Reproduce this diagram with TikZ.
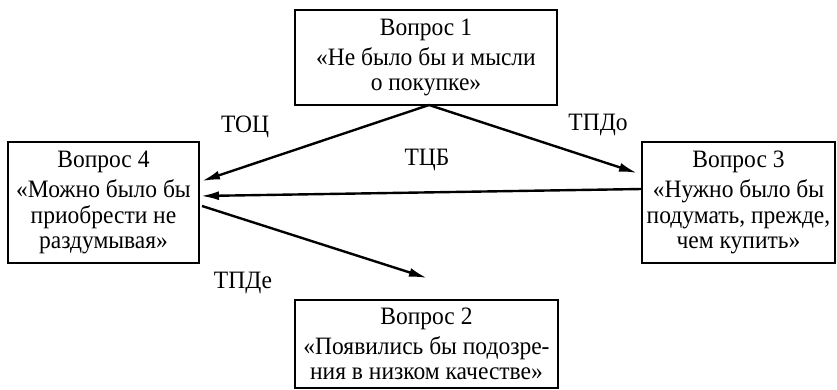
\documentclass[tikz,border=0pt]{standalone}
\usepackage{fontspec}
\setmainfont[FakeStretch=0.94]{Liberation Serif}
\usetikzlibrary{arrows.meta,calc}
\begin{document}
\begin{tikzpicture}[x=1pt,y=1pt,
  qbox/.style={draw=black,line width=2pt,inner sep=0pt,align=center,
    font=\fontsize{25}{25.5}\selectfont},
  conn/.style={line width=2.4pt,-{Latex[length=18pt,width=9pt]}},
  lbl/.style={font=\fontsize{25}{25.5}\selectfont,inner sep=0pt}]
\useasboundingbox (0,0) rectangle (837,390);
\node[qbox,minimum width=262pt,minimum height=95pt] (b1) at (426,332.5)
  {Вопрос 1\\[4.5pt]«Не было бы и мысли\\о покупке»};
\node[qbox,minimum width=191pt,minimum height=121pt] (b4) at (103.5,187.5)
  {Вопрос 4\\[4.5pt]«Можно было бы\\приобрести не\\раздумывая»};
\node[qbox,minimum width=193pt,minimum height=121pt] (b3) at (738.5,187.5)
  {Вопрос 3\\[4.5pt]«Нужно было бы\\подумать, прежде,\\чем купить»};
\node[qbox,minimum width=263pt,minimum height=88pt] (b2) at (426.5,46)
  {Вопрос 2\\[4.5pt]«Появились бы подозре-\\ния в низком качестве»};
\coordinate (s1) at (429,285);
\coordinate (e4a) at (202,209);
\coordinate (e3) at (637,217);
\coordinate (s3) at (642,201);
\coordinate (e4b) at (201,194);
\coordinate (s4) at (202,184);
\coordinate (e2) at (427,112);
\draw[conn] (s1) -- (e4a);
\draw[conn] (s1) -- (e3);
\draw[conn] (s3) -- (e4b);
\draw[conn] (s4) -- (e2);
\node[lbl] (lt1) at (245,263) {ТОЦ};
\node[lbl] (lt2) at (598,265) {ТПДо};
\node[lbl] (lt3) at (427,230) {ТЦБ};
\node[lbl] (lt4) at (243,107) {ТПДе};
\end{tikzpicture}
\end{document}
